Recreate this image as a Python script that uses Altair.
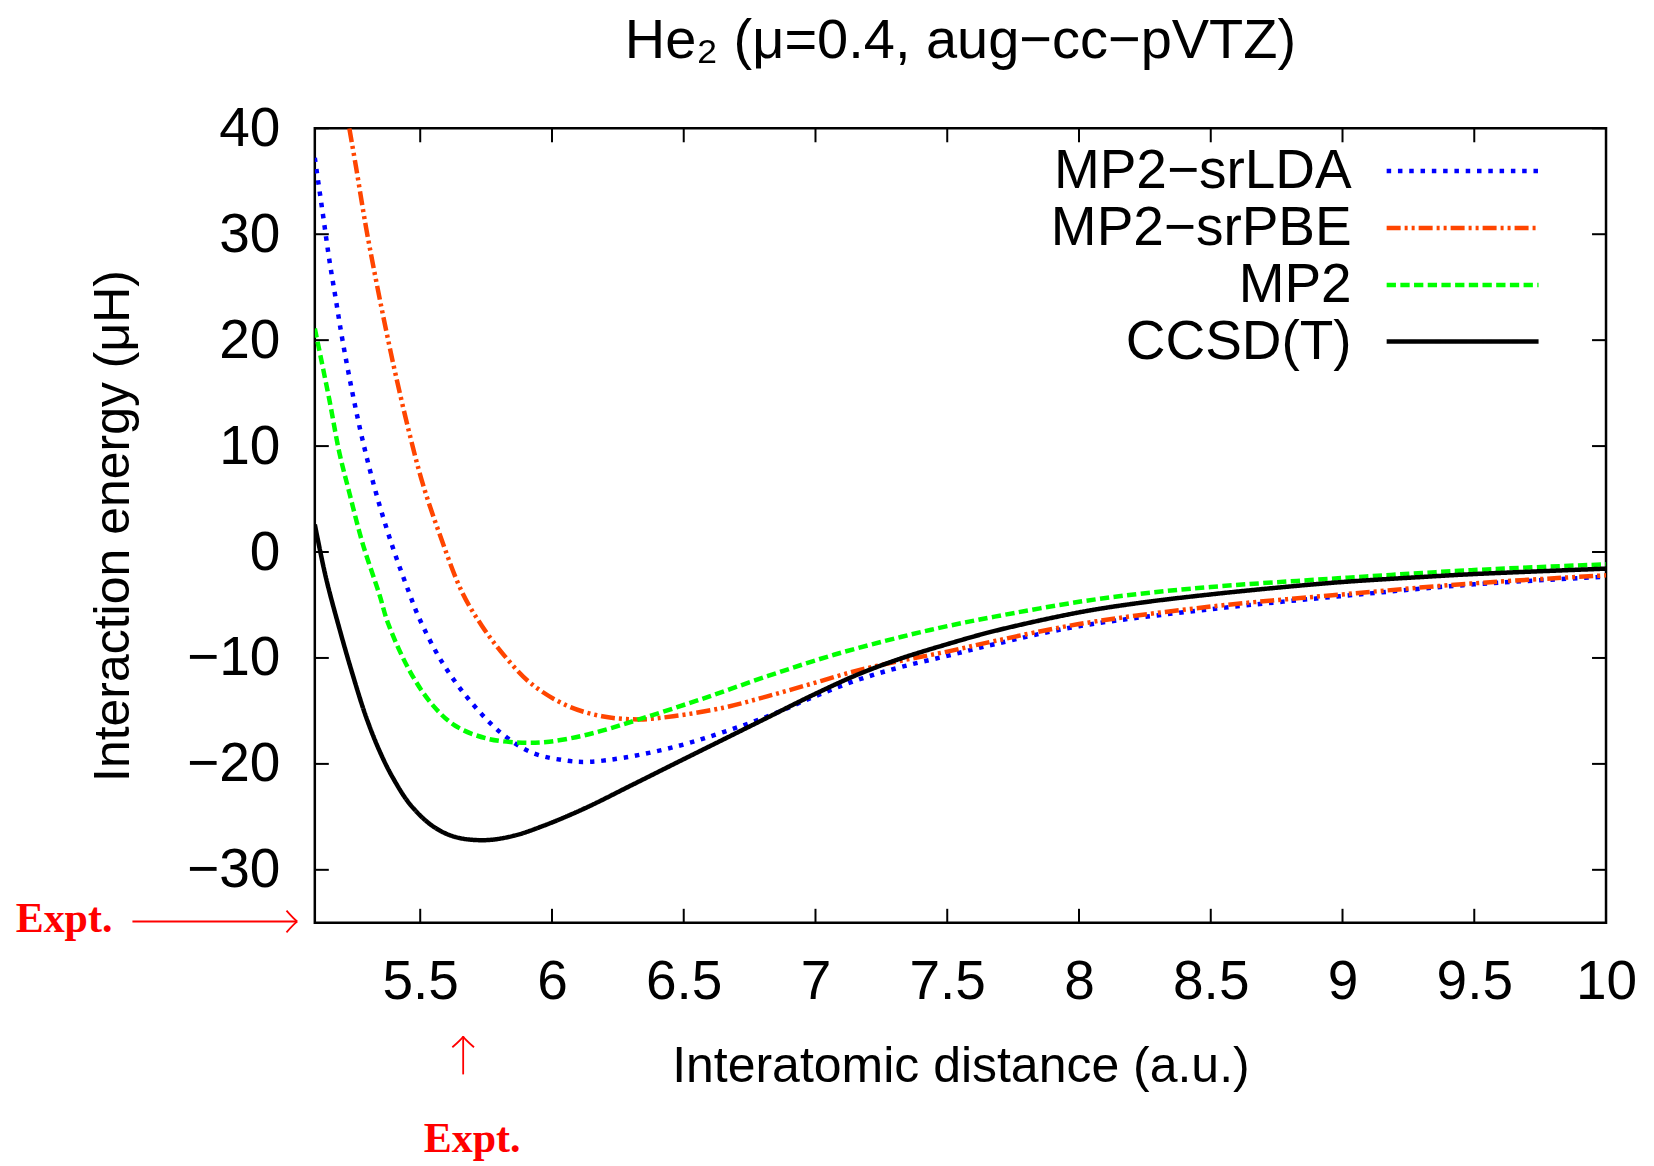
import altair as alt
import pandas as pd

# ---------------- data ----------------
x_ticks = [5.5, 6.0, 6.5, 7.0, 7.5, 8.0, 8.5, 9.0, 9.5, 10.0]
y_ticks = [-30, -20, -10, 0, 10, 20, 30, 40]

series_names = ["MP2\u2212srLDA", "MP2\u2212srPBE", "MP2", "CCSD(T)"]

lda_x = [5.1, 5.13, 5.155, 5.18, 5.205, 5.243, 5.281, 5.332, 5.395, 5.458, 5.498,
         5.583, 5.684, 5.803, 5.92, 6.057, 6.14, 6.277, 6.48, 6.65, 6.82, 6.99,
         7.157, 7.318, 7.5, 7.68, 8.0, 8.5, 9.0, 9.5, 10.0]
lda_y = [37.2, 32.0, 27.6, 23.8, 20.0, 15.0, 10.6, 5.6, 0.5, -3.85, -6.35,
         -10.4, -13.9, -17.0, -18.9, -19.7, -19.8, -19.4, -18.3, -17.0, -15.5, -13.7,
         -12.1, -10.9, -9.8, -8.7, -7.0, -5.4, -4.15, -3.05, -2.33]

pbe_x = [5.231, 5.256, 5.294, 5.332, 5.37, 5.408, 5.458, 5.509, 5.572, 5.66, 5.735,
         5.82, 5.92, 6.057, 6.19, 6.33, 6.46, 6.65, 6.82, 6.99, 7.157, 7.318, 7.5,
         7.68, 8.0, 8.5, 9.0, 9.5, 10.0]
pbe_y = [40.0, 36.4, 30.7, 25.7, 21.0, 16.6, 11.3, 6.5, 1.8, -3.85, -7.0,
         -9.8, -12.4, -14.5, -15.5, -15.8, -15.5, -14.7, -13.6, -12.4, -11.2, -10.3, -9.4,
         -8.4, -6.8, -5.15, -4.0, -2.95, -2.2]

mp2_x = [5.1, 5.155, 5.193, 5.231, 5.281, 5.345, 5.379, 5.464, 5.549, 5.633, 5.752,
         5.887, 5.99, 6.14, 6.33, 6.565, 6.82, 7.07, 7.327, 7.5, 7.68, 8.0, 8.23,
         8.5, 9.0, 9.5, 10.0]
mp2_y = [21.1, 14.4, 9.4, 5.6, 0.85, -4.0, -6.8, -11.4, -14.5, -16.4, -17.6,
         -18.0, -17.9, -17.2, -15.8, -13.9, -11.7, -9.7, -8.0, -7.0, -6.1, -4.7, -3.95,
         -3.3, -2.45, -1.7, -1.16]

ccsdt_x = [5.1, 5.142, 5.193, 5.244, 5.295, 5.346, 5.396, 5.464, 5.549, 5.633, 5.743,
           5.853, 5.972, 6.124, 6.311, 6.48, 6.65, 6.82, 6.99, 7.157, 7.318, 7.5,
           7.68, 8.0, 8.23, 8.5, 8.78, 9.0, 9.32, 9.5, 10.0]
ccsdt_y = [2.6, -2.4, -7.2, -11.6, -15.6, -18.8, -21.3, -23.9, -25.9, -26.9, -27.2,
           -26.8, -25.8, -24.2, -21.9, -19.8, -17.7, -15.6, -13.5, -11.6, -10.1, -8.7,
           -7.45, -5.7, -4.8, -4.0, -3.3, -2.83, -2.33, -2.08, -1.57]

expt_r = 5.663      # experimental equilibrium distance (arrow below the x axis)
expt_e = -34.88     # experimental well depth (arrow left of the y axis)

# ---------------- geometry / style ----------------
X_DOM = [5.1, 10.0]
Y_DOM = [-35, 40]
W, H = 1292, 795
PX = W / (X_DOM[1] - X_DOM[0])   # pixels per x unit
PY = H / (Y_DOM[1] - Y_DOM[0])   # pixels per y unit

SANS = "Liberation Sans"
SERIF = "Liberation Serif"
RED = "#ff0000"
LW = 4.5

styles = {
    "MP2\u2212srLDA": dict(color="#0000ff", strokeDash=[4.5, 6.8]),
    "MP2\u2212srPBE": dict(color="#ff4500", strokeDash=[14, 4, 3, 4, 3, 4]),
    "MP2": dict(color="#00ff00", strokeDash=[9.3, 4.4]),
    "CCSD(T)": dict(color="#000000", strokeDash=[1, 0]),
}
curves = {
    "MP2\u2212srLDA": (lda_x, lda_y),
    "MP2\u2212srPBE": (pbe_x, pbe_y),
    "MP2": (mp2_x, mp2_y),
    "CCSD(T)": (ccsdt_x, ccsdt_y),
}

xs = alt.Scale(domain=X_DOM, nice=False, zero=False)
ys = alt.Scale(domain=Y_DOM, nice=False, zero=False)

ax_x = alt.Axis(values=x_ticks, format="~g", ticks=False, tickSize=0, domain=False, grid=False,
                labelFont=SANS, labelFontSize=55, labelColor="black", labelPadding=33,
                labelFlush=False, labelOverlap=False,
                title="Interatomic distance (a.u.)", titleFont=SANS, titleFontSize=50,
                titleFontWeight="normal", titleColor="black", titlePadding=32)
ax_y = alt.Axis(values=y_ticks, format="d", ticks=False, tickSize=0, domain=False, grid=False,
                labelFont=SANS, labelFontSize=55, labelColor="black", labelPadding=35,
                labelFlush=False, labelOverlap=False,
                title="Interaction energy (\u03bcH)", titleFont=SANS, titleFontSize=50,
                titleFontWeight="normal", titleColor="black", titlePadding=48)

X = alt.X("x:Q", scale=xs, axis=ax_x)
Y = alt.Y("y:Q", scale=ys, axis=ax_y)

layers = []

# inward tick marks on all four sides
TL = 14  # tick length in px
tick_rows = []
for v in x_ticks:
    tick_rows.append(dict(x=v, x2=v, y=Y_DOM[0], y2=Y_DOM[0] + TL / PY))
    tick_rows.append(dict(x=v, x2=v, y=Y_DOM[1], y2=Y_DOM[1] - TL / PY))
for v in y_ticks:
    tick_rows.append(dict(x=X_DOM[0], x2=X_DOM[0] + TL / PX, y=v, y2=v))
    tick_rows.append(dict(x=X_DOM[1], x2=X_DOM[1] - TL / PX, y=v, y2=v))
ticks = alt.Chart(pd.DataFrame(tick_rows)).mark_rule(color="black", strokeWidth=2).encode(
    x=X, x2="x2:Q", y=Y, y2="y2:Q")
layers.append(ticks)

# curves
for name in series_names:
    cx, cy = curves[name]
    st = styles[name]
    layers.append(
        alt.Chart(pd.DataFrame({"x": cx, "y": cy})).mark_line(
            color=st["color"], strokeDash=st["strokeDash"], strokeWidth=LW,
            interpolate="catmull-rom", clip=True).encode(x=X, y=Y)
    )

# legend (drawn inside the plot, labels to the left of the samples)
leg_label_x = X_DOM[0] + (1353 - 315.5) / PX
leg_x0 = X_DOM[0] + (1388 - 315.5) / PX
leg_x1 = X_DOM[0] + (1540 - 315.5) / PX
leg_rows_px = [171, 228, 285, 341.7]
leg_y = [Y_DOM[1] - (p - 128.3) / PY for p in leg_rows_px]
for name, ly in zip(series_names, leg_y):
    st = styles[name]
    layers.append(
        alt.Chart(pd.DataFrame({"x": [leg_x0, leg_x1], "y": [ly, ly]})).mark_line(
            color=st["color"], strokeDash=st["strokeDash"], strokeWidth=LW).encode(x=X, y=Y)
    )
layers.append(
    alt.Chart(pd.DataFrame({"x": [leg_label_x] * 4, "y": leg_y, "t": series_names})).mark_text(
        align="right", baseline="middle", font=SANS, fontSize=55, color="black").encode(
        x=X, y=Y, text="t:N")
)

# "Expt." annotations
left_txt_x = X_DOM[0] - (315.5 - 113) / PX
left_shaft_x0 = X_DOM[0] - (315.5 - 133) / PX
left_tip_x = X_DOM[0] - (315.5 - 298) / PX
up_tip_y = Y_DOM[1] - (1037 - 128.3) / PY
up_tail_y = Y_DOM[1] - (1075 - 128.3) / PY
bottom_txt_y = Y_DOM[1] - (1153 - 128.3) / PY
left_txt_y = Y_DOM[1] - (932.7 - 128.3) / PY
bottom_txt_x = expt_r + (473 - 464) / PX

layers.append(
    alt.Chart(pd.DataFrame({"x": [left_shaft_x0], "x2": [left_tip_x - 0.5 / PX], "y": [expt_e]})).mark_rule(
        color=RED, strokeWidth=1.8).encode(x=X, x2="x2:Q", y=Y)
)
layers.append(
    alt.Chart(pd.DataFrame({"x": [expt_r], "y": [up_tip_y - 0.5 / PY], "y2": [up_tail_y]})).mark_rule(
        color=RED, strokeWidth=1.8).encode(x=X, y=Y, y2="y2:Q")
)
head_path = "M -1 -1 Q -0.25 -0.15 0 0 M -1 1 Q -0.25 0.15 0 0"
layers.append(
    alt.Chart(pd.DataFrame({"x": [left_tip_x], "y": [expt_e]})).mark_point(
        shape=head_path, size=470, filled=False, color=RED, strokeWidth=1.8, opacity=1).encode(x=X, y=Y)
)
layers.append(
    alt.Chart(pd.DataFrame({"x": [expt_r], "y": [up_tip_y]})).mark_point(
        shape=head_path, size=470, angle=270, filled=False, color=RED, strokeWidth=1.8, opacity=1).encode(x=X, y=Y)
)
layers.append(
    alt.Chart(pd.DataFrame({"x": [left_txt_x], "y": [left_txt_y], "t": ["Expt."]})).mark_text(
        align="right", baseline="alphabetic", font=SERIF, fontSize=42, fontWeight="bold", color=RED).encode(
        x=X, y=Y, text="t:N")
)
layers.append(
    alt.Chart(pd.DataFrame({"x": [bottom_txt_x], "y": [bottom_txt_y], "t": ["Expt."]})).mark_text(
        align="center", baseline="alphabetic", font=SERIF, fontSize=42, fontWeight="bold", color=RED).encode(
        x=X, y=Y, text="t:N")
)

chart = alt.layer(*layers).properties(
    width=W, height=H,
    title=alt.TitleParams("He\u2082 (\u03bc=0.4, aug\u2212cc\u2212pVTZ)", font=SANS, fontSize=56,
                          fontWeight="normal", color="black", anchor="middle", frame="group", offset=31),
    padding={"left": 307, "top": 120, "right": 40, "bottom": 241},
    autosize=alt.AutoSizeParams(type="none"),
    background="white",
).configure_view(stroke="black", strokeWidth=2.5)

chart.save("out.html", embed_options={"renderer": "svg", "actions": False})
